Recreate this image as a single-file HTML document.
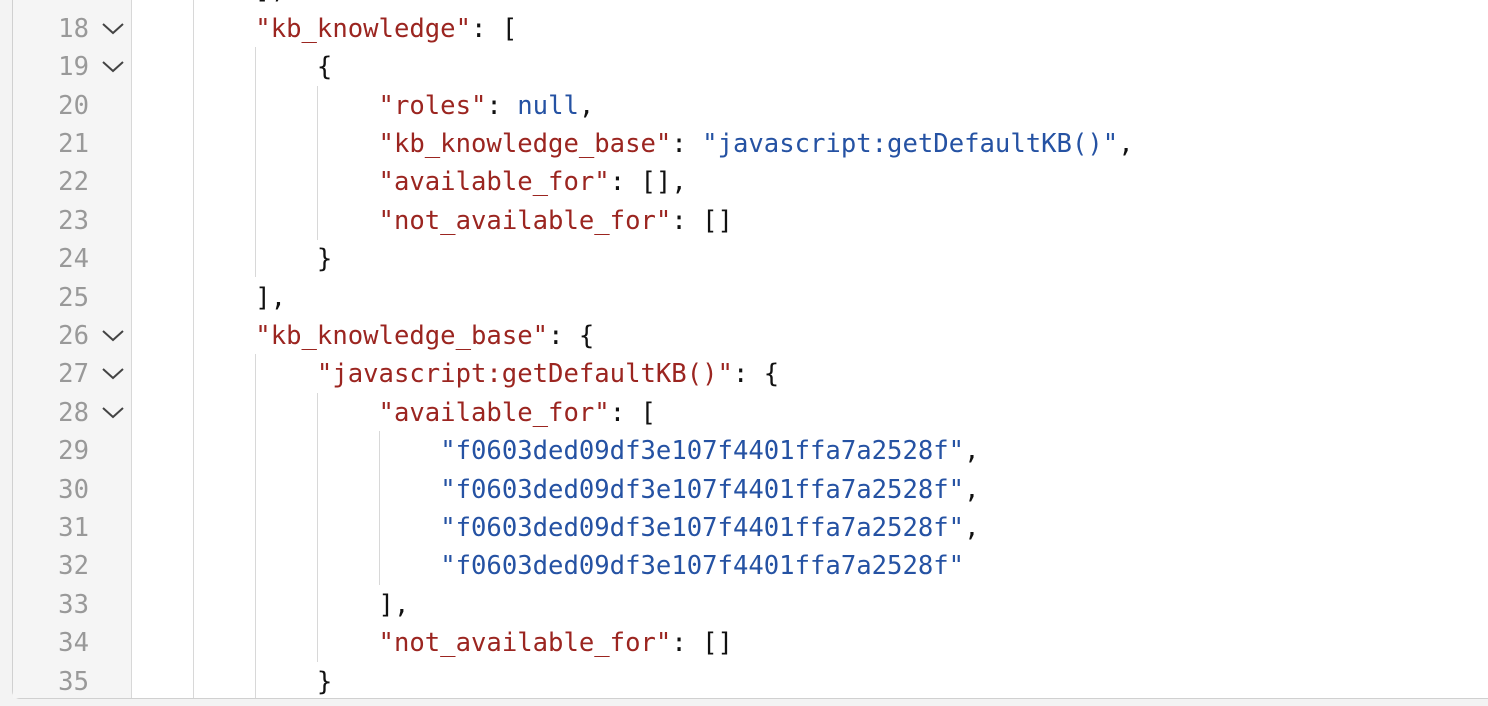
<!DOCTYPE html>
<html><head><meta charset="utf-8"><style>
html,body{margin:0;padding:0;background:#f3f3f3;}
body{width:1488px;height:706px;position:relative;overflow:hidden;font-family:"DejaVu Sans Mono","Liberation Mono",monospace;font-size:25.6px;}
#frame{position:absolute;left:12px;top:-20px;width:1500px;height:719px;background:#fff;border:1px solid #d0d0d0;border-radius:8px;box-sizing:border-box;overflow:hidden;}
#gutter{position:absolute;left:13px;top:0;width:118px;height:698px;background:#f5f5f5;border-right:1px solid #d8d8d8;}
.ln{position:absolute;left:13px;width:76px;text-align:right;color:#999;height:38.4px;line-height:38.4px;}
.chev{position:absolute;left:101px;width:24px;height:38.4px;}
.l{position:absolute;left:132px;white-space:pre;height:38.4px;line-height:38.4px;color:#111;padding-bottom:2px;}
.k{color:#9b2520}.s{color:#2552a3}
.g{position:absolute;width:1px;background:#d8d8d8;}
</style></head><body>
<div id="frame"></div>
<div id="gutter"></div>
<div class="g" style="left:193px;top:0;height:698px"></div>
<div class="g" style="left:255px;top:47px;height:230px"></div>
<div class="g" style="left:255px;top:354px;height:344px"></div>
<div class="g" style="left:317px;top:86px;height:154px"></div>
<div class="g" style="left:317px;top:393px;height:269px"></div>
<div class="g" style="left:379px;top:431px;height:154px"></div>
<div id="lines"></div>
<script>
const L=[
[17,'        ],',0],
[18,'        <k>"kb_knowledge"</k>: [',1],
[19,'            {',1],
[20,'                <k>"roles"</k>: <s>null</s>,',0],
[21,'                <k>"kb_knowledge_base"</k>: <s>"javascript:getDefaultKB()"</s>,',0],
[22,'                <k>"available_for"</k>: [],',0],
[23,'                <k>"not_available_for"</k>: []',0],
[24,'            }',0],
[25,'        ],',0],
[26,'        <k>"kb_knowledge_base"</k>: {',1],
[27,'            <k>"javascript:getDefaultKB()"</k>: {',1],
[28,'                <k>"available_for"</k>: [',1],
[29,'                    <s>"f0603ded09df3e107f4401ffa7a2528f"</s>,',0],
[30,'                    <s>"f0603ded09df3e107f4401ffa7a2528f"</s>,',0],
[31,'                    <s>"f0603ded09df3e107f4401ffa7a2528f"</s>,',0],
[32,'                    <s>"f0603ded09df3e107f4401ffa7a2528f"</s>',0],
[33,'                ],',0],
[34,'                <k>"not_available_for"</k>: []',0],
[35,'            }',0]];
let h='';
for(const [n,t,c] of L){
 const top=9.8+(n-18)*38.4;
 h+=`<div class="l" style="top:${top}px">${t.replace(/<k>/g,'<span class="k">').replace(/<s>/g,'<span class="s">').replace(/<\/[ks]>/g,'</span>')}</div>`;
 if(n>=18) h+=`<div class="ln" style="top:${top}px">${n}</div>`;
 if(c) h+=`<svg class="chev" style="top:${top}px" viewBox="0 0 24 38.4"><polyline points="2,14 12,23 22,14" fill="none" stroke="#444" stroke-width="2"/></svg>`;
}
document.getElementById('lines').innerHTML=h;
</script>
</body></html>
